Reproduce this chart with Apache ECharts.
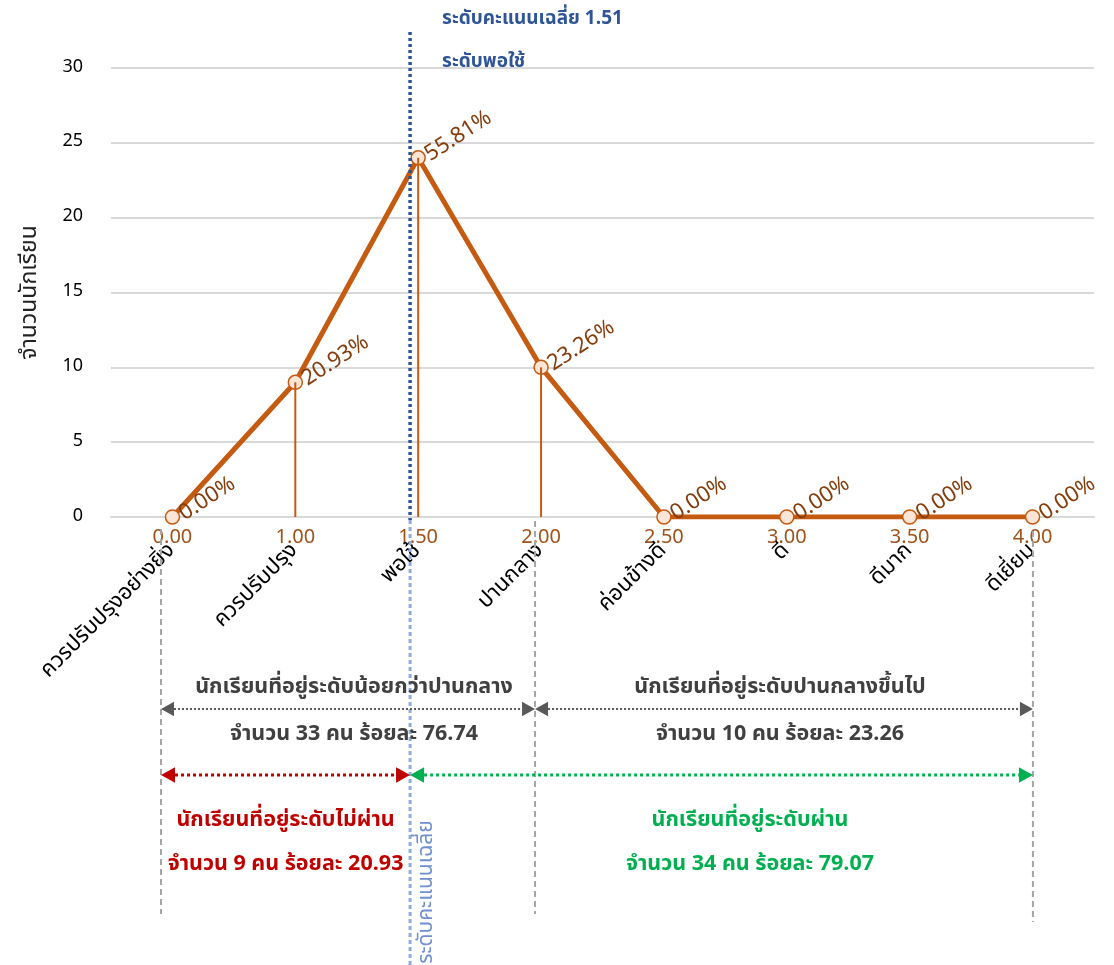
<!DOCTYPE html>
<html><head><meta charset="utf-8">
<script src="https://cdn.jsdelivr.net/npm/echarts@6/dist/echarts.min.js"></script>
<style>html,body{margin:0;padding:0;background:#fff}#c{width:1114px;height:965px}</style>
</head><body><div id="c"></div>
<script>
// ---------- data ----------
const scoreLabels = ['0.00','1.00','1.50','2.00','2.50','3.00','3.50','4.00'];
const levelNames = ['ควรปรับปรุงอย่างยิ่ง','ควรปรับปรุง','พอใช้','ปานกลาง','ค่อนข้างดี','ดี','ดีมาก','ดีเยี่ยม'];
const studentCounts = [0, 9, 24, 10, 0, 0, 0, 0];
const yAxisTitle = 'จำนวนนักเรียน';
const meanScore = '1.51';
const meanLevelText = 'ระดับพอใช้';
const meanAxisText = 'ระดับคะแนนเฉลี่ย';
const middleIndex = 3;   // "ปานกลาง"
const passIndex = 2;     // "พอใช้"

const total = studentCounts.reduce((a, b) => a + b, 0);
const sumRange = (a, b) => studentCounts.slice(a, b).reduce((s, v) => s + v, 0);
const pct = v => (v / total * 100).toFixed(2);
const belowMid = sumRange(0, middleIndex), aboveMid = sumRange(middleIndex, studentCounts.length);
const failN = sumRange(0, passIndex), passN = sumRange(passIndex, studentCounts.length);

const FONT = '"Noto Sans Thai","Noto Sans","DejaVu Sans",sans-serif';
const ORANGE = '#C55A11';

const chart = echarts.init(document.getElementById('c'));
chart.setOption({
  backgroundColor: '#fff',
  animation: false,
  textStyle: { fontFamily: FONT },
  grid: { left: 111, right: 20, top: 68, bottom: 448 },
  xAxis: [
    { type: 'category', data: scoreLabels, position: 'bottom',
      axisLine: { show: true, lineStyle: { color: '#D9D9D9', width: 2 } },
      axisTick: { show: false },
      axisLabel: { color: '#A0521A', fontSize: 20, margin: 12, fontFamily: FONT } },
    { type: 'category', data: levelNames, position: 'bottom',
      axisLine: { show: false }, axisTick: { show: false },
      axisLabel: { color: '#000', fontSize: 22, rotate: 45, margin: 31, fontFamily: FONT } }
  ],
  yAxis: {
    type: 'value', min: 0, max: 30, interval: 5,
    name: yAxisTitle, nameLocation: 'middle', nameGap: 68,
    nameTextStyle: { fontSize: 23, color: '#222', fontFamily: FONT },
    axisLine: { show: false }, axisTick: { show: false },
    axisLabel: { color: '#000', fontSize: 18, margin: 28, fontFamily: FONT },
    splitLine: { lineStyle: { color: '#D9D9D9', width: 2 } }
  },
  series: [
    { type: 'line', data: studentCounts, z: 3,
      symbol: 'circle', symbolSize: 14,
      lineStyle: { color: ORANGE, width: 5 },
      itemStyle: { color: '#FBE5D6', borderColor: ORANGE, borderWidth: 1.5 },
      label: { show: true, position: 'right', distance: 2, rotate: 33,
        formatter: p => pct(p.value) + '%', color: '#843C0C', fontSize: 22, fontFamily: FONT } },
    { type: 'bar', data: studentCounts, barWidth: 2, z: 4, silent: true,
      itemStyle: { color: ORANGE } }
  ]
});

// ---------- annotations (positions derived from the category axis) ----------
const x0 = chart.convertToPixel({ xAxisIndex: 0 }, scoreLabels[0]);
const x7 = chart.convertToPixel({ xAxisIndex: 0 }, scoreLabels[7]);
const step = (x7 - x0) / 7;
const px = i => x0 + i * step;
const yBase = chart.convertToPixel({ yAxisIndex: 0 }, 0);

const meanX = px(1.934), leftX = px(-0.093), midX = px(2.951), rightX = px(7.003);
const G = [];
const vline = (x, y1, y2, color, w, dash, z) => G.push({ type: 'line', z: z || 50,
  shape: { x1: x, y1: y1, x2: x, y2: y2 }, style: { stroke: color, lineWidth: w, lineDash: dash } });
const head = (x, y, dir, color, s) => G.push({ type: 'polygon', z: 60,
  shape: { points: [[x, y], [x - dir * s, y - s * 0.55], [x - dir * s, y + s * 0.55]] }, style: { fill: color } });
const arrow = (xa, xb, y, color, w, dash, s) => {
  G.push({ type: 'line', z: 55, shape: { x1: xa + s, y1: y, x2: xb - s, y2: y }, style: { stroke: color, lineWidth: w, lineDash: dash } });
  head(xa, y, -1, color, s); head(xb, y, 1, color, s);
};
const text = (x, y, str, color, size, weight, extra) => G.push(Object.assign({ type: 'text', z: 70, x: x, y: y,
  style: { text: str, fill: color, font: (weight || 'normal') + ' ' + size + 'px ' + FONT, align: 'center', verticalAlign: 'middle' } }, extra || {}));

// gray dashed boundary lines
vline(leftX, yBase + 12, 914, '#A6A6A6', 2, [6, 4]);
vline(midX, yBase + 4, 914, '#A6A6A6', 2, [6, 4]);
vline(rightX, yBase + 14, 922, '#A6A6A6', 2, [6, 4]);
// mean line
vline(meanX, 32, yBase + 3, '#2F5597', 3.5, [3, 3], 80);
vline(meanX, yBase + 3, 965, '#8FAADC', 3, [4, 3], 45);
text(meanX + 18, 892, meanAxisText, '#6F8FCF', 21, 'normal', { rotation: Math.PI / 2 });
// mean titles
G.push({ type: 'text', z: 70, x: meanX + 32, y: 20, style: { text: meanAxisText + ' ' + meanScore, fill: '#2F5597', font: 'bold 19px ' + FONT, align: 'left', verticalAlign: 'middle' } });
G.push({ type: 'text', z: 70, x: meanX + 32, y: 63, style: { text: meanLevelText, fill: '#2F5597', font: 'bold 19px ' + FONT, align: 'left', verticalAlign: 'middle' } });

// gray arrows
arrow(leftX, midX, 709, '#595959', 2, [2, 2], 13);
arrow(midX, rightX, 709, '#595959', 2, [2, 2], 13);
const TS = 21.5;
text((leftX + midX) / 2 + 6, 689, 'นักเรียนที่อยู่ระดับน้อยกว่าปานกลาง', '#404040', TS, 'bold');
text((leftX + midX) / 2 + 6, 736, 'จำนวน ' + belowMid + ' คน ร้อยละ ' + pct(belowMid), '#404040', TS, 'bold');
text((midX + rightX) / 2 - 4, 689, 'นักเรียนที่อยู่ระดับปานกลางขึ้นไป', '#404040', TS, 'bold');
text((midX + rightX) / 2 - 4, 736, 'จำนวน ' + aboveMid + ' คน ร้อยละ ' + pct(aboveMid), '#404040', TS, 'bold');
// pass / fail arrows
arrow(leftX, meanX, 775, '#C00000', 3, [3, 3], 14);
arrow(meanX, rightX, 775, '#00B050', 3, [3, 3], 14);
text((leftX + meanX) / 2, 822, 'นักเรียนที่อยู่ระดับไม่ผ่าน', '#C00000', TS, 'bold');
text((leftX + meanX) / 2, 866, 'จำนวน ' + failN + ' คน ร้อยละ ' + pct(failN), '#C00000', TS, 'bold');
text(750, 822, 'นักเรียนที่อยู่ระดับผ่าน', '#00B050', TS, 'bold');
text(750, 866, 'จำนวน ' + passN + ' คน ร้อยละ ' + pct(passN), '#00B050', TS, 'bold');

chart.setOption({ graphic: G });
</script></body></html>
